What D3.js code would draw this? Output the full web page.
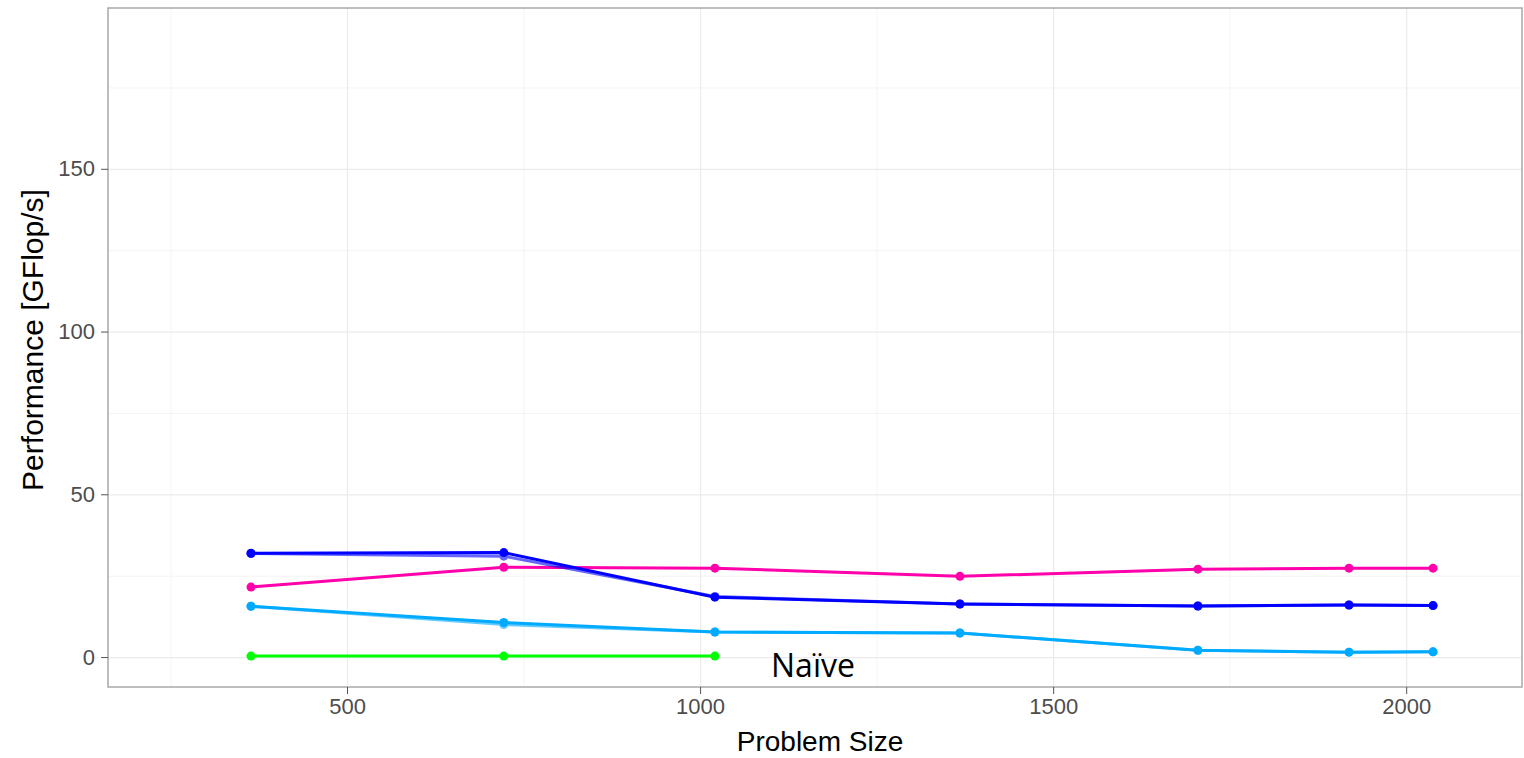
<!DOCTYPE html>
<html>
  <head>
    <meta charset="UTF-8">
    <script src="https://d3js.org/d3.v7.min.js"></script>
    <style>
      body { margin: 0; background: #fff; }
      .axis text { font-family: "Liberation Sans", Arial, sans-serif; font-size: 22px; fill: #4d4d4d; }
      .axis line { stroke: #555; }
      .axis .domain { stroke: none; }
      .major line { stroke: #ebebeb; stroke-width: 1.2; }
      .minor line { stroke: #f4f4f4; stroke-width: 1; }
      .gridlines .domain { stroke: none; }
    </style>
    <title>Performance</title>
  </head>
  <body>
    <svg id="plot" width="1524" height="758"></svg>
    <script>
      // problem sizes and series values
      const sizes = [364, 722, 1021, 1368, 1705, 1919, 2038];
      const naive = [0.3, 0.3, 0.3];
      const lightBlueA = [15.6, 10.0, 7.7, 7.4, 2.1, 1.5, 1.6];
      const lightBlueB = [15.6, 10.6, 7.7, 7.4, 2.1, 1.5, 1.6];
      const darkBlueA = [31.8, 31.0, 18.6, 16.3, 15.7, 16.0, 15.8];
      const darkBlueB = [31.9, 32.1, 18.4, 16.3, 15.7, 16.0, 15.8];
      const pink = [21.5, 27.6, 27.3, 24.8, 27.0, 27.3, 27.3];

      const xTicks = [500, 1000, 1500, 2000];
      const xMinor = [250, 750, 1250, 1750];
      const yTicks = [0, 50, 100, 150];
      const yMinor = [25, 75, 125, 175];

      const series = [
        {name: "naive", color: "#00ff00", values: naive},
        {name: "lb1", color: "#00aaff", values: lightBlueA, opacity: 0.6},
        {name: "lb2", color: "#00aaff", values: lightBlueB},
        {name: "pink", color: "#ff00aa", values: pink},
        {name: "db1", color: "#0000ff", values: darkBlueA, opacity: 0.6},
        {name: "db2", color: "#0000ff", values: darkBlueB}
      ];

      const svg = d3.select("svg#plot");
      const margin = {top: 8, right: 2, bottom: 71, left: 108};
      const width = +svg.attr("width");
      const height = +svg.attr("height");
      const chartWidth = width - margin.left - margin.right;
      const chartHeight = height - margin.top - margin.bottom;

      const x = d3.scaleLinear().domain([161.5, 2164]).range([0, chartWidth]);
      const y = d3.scaleLinear().domain([-9.2, 199.4]).range([chartHeight, 0]);

      const plot = svg.append("g")
                      .attr("transform", "translate(" + margin.left + "," + margin.top + ")");

      // gridlines
      plot.append("g").attr("class", "gridlines minor")
          .call(d3.axisBottom(x).tickValues(xMinor).tickFormat("").tickSize(chartHeight));
      plot.append("g").attr("class", "gridlines minor")
          .call(d3.axisLeft(y).tickValues(yMinor).tickFormat("").tickSize(-chartWidth));
      plot.append("g").attr("class", "gridlines major")
          .call(d3.axisBottom(x).tickValues(xTicks).tickFormat("").tickSize(chartHeight));
      plot.append("g").attr("class", "gridlines major")
          .call(d3.axisLeft(y).tickValues(yTicks).tickFormat("").tickSize(-chartWidth));

      // lines and points
      const line = d3.line().x((d, i) => x(sizes[i])).y(d => y(d));
      series.forEach(s => {
        const g = plot.append("g").attr("opacity", s.opacity || 1);
        g.append("path")
         .datum(s.values)
         .attr("fill", "none")
         .attr("stroke", s.color)
         .attr("stroke-width", 3)
         .attr("d", line);
        g.selectAll("circle").data(s.values).enter()
         .append("circle")
         .attr("cx", (d, i) => x(sizes[i]))
         .attr("cy", d => y(d))
         .attr("r", 4.5)
         .attr("fill", s.color);
      });

      // panel border
      plot.append("rect")
          .attr("width", chartWidth).attr("height", chartHeight)
          .attr("fill", "none").attr("stroke", "#a8a8a8").attr("stroke-width", 1.5);

      // axes
      plot.append("g").attr("class", "axis")
          .attr("transform", "translate(0," + chartHeight + ")")
          .call(d3.axisBottom(x).tickValues(xTicks).tickSize(7).tickPadding(4).tickFormat(d3.format("d")));
      plot.append("g").attr("class", "axis")
          .call(d3.axisLeft(y).tickValues(yTicks).tickSize(7).tickPadding(6).tickFormat(d3.format("d")));

      // titles
      svg.append("text")
         .attr("x", 820).attr("y", 751)
         .attr("text-anchor", "middle")
         .style("font-family", "Liberation Sans, Arial, sans-serif")
         .style("font-size", "28px")
         .text("Problem Size");
      svg.append("text")
         .attr("transform", "translate(43,340) rotate(-90)")
         .attr("text-anchor", "middle")
         .style("font-family", "Liberation Sans, Arial, sans-serif")
         .style("font-size", "30px")
         .text("Performance [GFlop/s]");

      // annotation
      svg.append("text")
         .attr("x", 771).attr("y", 677)
         .style("font-family", "Open Sans, sans-serif")
         .style("font-size", "32px")
         .attr("fill", "#000")
         .text("Naïve");
    </script>
  </body>
</html>
